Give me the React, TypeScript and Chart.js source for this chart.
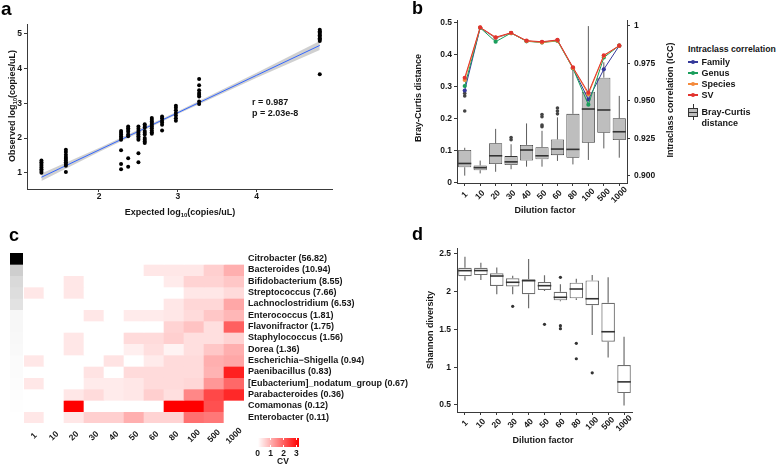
import React, { useEffect, useRef } from "react";
import { Chart, registerables } from "chart.js";
Chart.register(...registerables);

const FONT = "'Liberation Sans', Arial, Helvetica, sans-serif";
const INK = "#161616";
const AXIS = "#3a3a3a";

// ---------- Panel a : expected vs observed ----------
const expectedLog = [1.27, 1.58, 2.28, 2.37, 2.5, 2.58, 2.67, 2.8, 2.975, 3.27, 4.8];
const observedLog = [
  [1.0, 1.05, 1.1, 1.15, 1.2, 1.25, 1.3, 1.35],
  [1.02, 1.2, 1.25, 1.3, 1.35, 1.4, 1.45, 1.52, 1.6, 1.66],
  [1.1, 1.25, 1.65, 1.95, 2.0, 2.05, 2.1, 2.15, 2.2],
  [1.17, 1.42, 2.05, 2.1, 2.18, 2.23, 2.28, 2.33],
  [1.3, 1.56, 1.95, 2.0, 2.05, 2.1, 2.15, 2.2, 2.27, 2.33],
  [1.86, 1.9, 1.95, 2.0, 2.1, 2.15, 2.2, 2.3, 2.35, 2.4],
  [2.12, 2.17, 2.22, 2.28, 2.33, 2.38, 2.43, 2.48, 2.53, 2.58],
  [2.22, 2.38, 2.45, 2.5, 2.57, 2.62],
  [2.5, 2.57, 2.65, 2.72, 2.8, 2.87, 2.93],
  [2.98, 3.05, 3.2, 3.25, 3.3, 3.38, 3.52, 3.7],
  [3.84, 4.8, 4.84, 4.88, 4.92, 4.96, 5.0, 5.04, 5.08, 5.12],
];
const fitX = [1.27, 2.0, 3.0, 4.0, 4.8];
const fitY = [0.87, 1.655, 2.73, 3.81, 4.67];
const fitLower = [0.76, 1.6, 2.69, 3.74, 4.54];
const fitUpper = [0.98, 1.71, 2.77, 3.88, 4.8];
const aXTicks = [2, 3, 4];
const aYTicks = [1, 2, 3, 4, 5];

// ---------- Panel b : Bray-Curtis boxes + ICC lines ----------
const dilutionLabels = ["1", "10", "20", "30", "40", "50", "60", "80", "100", "500", "1000"];
const bcMin = [0.021, 0.028, 0.033, 0.041, 0.049, 0.049, 0.067, 0.056, 0.07, 0.106, 0.077];
const bcQ1 = [0.047, 0.038, 0.057, 0.054, 0.068, 0.072, 0.085, 0.077, 0.124, 0.155, 0.132];
const bcMedian = [0.059, 0.046, 0.083, 0.064, 0.101, 0.083, 0.104, 0.103, 0.229, 0.226, 0.158];
const bcQ3 = [0.101, 0.053, 0.122, 0.082, 0.117, 0.11, 0.134, 0.214, 0.283, 0.327, 0.2];
const bcMax = [0.108, 0.068, 0.167, 0.119, 0.184, 0.161, 0.203, 0.361, 0.488, 0.375, 0.27];
const bcOutlierCat = ["1", "1", "1", "30", "30", "50", "50", "50", "50", "60", "60", "60"];
const bcOutlierVal = [0.223, 0.27, 0.278, 0.133, 0.14, 0.174, 0.179, 0.205, 0.212, 0.214, 0.223, 0.232];
const iccSV = [0.9655, 0.9991, 0.9925, 0.9955, 0.9902, 0.9895, 0.9907, 0.9725, 0.9555, 0.9805, 0.9869];
const iccSpecies = [0.964, 0.999, 0.9922, 0.9953, 0.99, 0.989, 0.9903, 0.972, 0.9545, 0.98, 0.9869];
const iccGenus = [0.96, 0.9988, 0.9895, 0.9953, 0.9898, 0.989, 0.99, 0.9718, 0.9475, 0.979, 0.9869];
const iccFamily = [0.957, 0.9988, 0.992, 0.9953, 0.99, 0.9892, 0.9905, 0.972, 0.951, 0.9711, 0.9869];
const bcTicks = [0, 0.1, 0.2, 0.3, 0.4, 0.5];
const iccTicks = [0.9, 0.925, 0.95, 0.975, 1];
const iccTickLabels = ["0.900", "0.925", "0.950", "0.975", "1"];
const FAMILY_C = "#35399a";
const GENUS_C = "#1a9e5c";
const SPECIES_C = "#f48a3c";
const SV_C = "#e2332e";

// ---------- Panel c : CV heatmap ----------
const taxa = [
  "Citrobacter", "Bacteroides", "Bifidobacterium", "Streptococcus", "Lachnoclostridium",
  "Enterococcus", "Flavonifractor", "Staphylococcus", "Dorea", "Escherichia\u2212Shigella",
  "Paenibacillus", "[Eubacterium]_nodatum_group", "Parabacteroides", "Comamonas", "Enterobacter",
];
const abundance = [56.82, 10.94, 8.55, 7.66, 6.53, 1.81, 1.75, 1.56, 1.36, 0.94, 0.83, 0.67, 0.36, 0.12, 0.11];
const cvValues = [
  [0, 0, 0, 0, 0, 0, 0, 0, 0, 0, 0],
  [0, 0, 0, 0, 0, 0, 0.3, 0.3, 0.3, 0.6, 1.0],
  [0, 0, 0.3, 0, 0, 0, 0, 0.25, 0.55, 0.55, 0.7],
  [0.3, 0, 0.3, 0, 0, 0, 0, 0, 0.3, 0.3, 0.45],
  [0, 0, 0, 0, 0, 0, 0, 0.3, 0.5, 0.5, 1.1],
  [0, 0, 0, 0.3, 0, 0.25, 0.25, 0.3, 0.45, 0.7, 0.9],
  [0, 0, 0, 0, 0, 0, 0, 0.55, 0.75, 0.4, 2.0],
  [0, 0, 0.3, 0, 0, 0.45, 0.45, 0.6, 0.4, 0.4, 0.55],
  [0, 0, 0.3, 0, 0, 0.2, 0.4, 0.15, 0.4, 0.7, 1.0],
  [0.3, 0, 0, 0, 0.35, 0, 0.25, 0.45, 0.45, 1.0, 1.1],
  [0, 0, 0, 0.35, 0, 0.45, 0.45, 0.45, 0.45, 0.95, 2.8],
  [0.3, 0, 0, 0.25, 0.25, 0.3, 0.45, 0.45, 0.5, 1.3, 1.9],
  [0, 0, 0.3, 0.45, 0.25, 0.3, 0.6, 0.4, 1.5, 2.3, 2.7],
  [0, 0, 3.2, 0, 0, 0, 0, 3.2, 3.2, 2.2, 0],
  [0.3, 0, 0.3, 0.6, 0.6, 1.0, 0.55, 0.55, 1.8, 1.7, 0],
];
const cvMax = 3.2;
const cvLegendTicks = [0, 1, 2, 3];

// ---------- Panel d : Shannon diversity ----------
const shMin = [2.15, 2.155, 1.966, 1.966, 1.78, 2.01, 1.875, 1.89, 1.426, 1.13, 0.493];
const shQ1 = [2.204, 2.22, 2.076, 2.07, 1.966, 2.023, 1.886, 1.912, 1.82, 1.337, 0.657];
const shMedian = [2.279, 2.28, 2.208, 2.125, 2.146, 2.08, 1.926, 2.036, 1.907, 1.47, 0.806];
const shQ3 = [2.318, 2.318, 2.244, 2.178, 2.164, 2.129, 2.0, 2.12, 2.15, 1.854, 1.028];
const shMax = [2.464, 2.385, 2.32, 2.212, 2.434, 2.217, 2.098, 2.173, 2.22, 2.19, 1.403];
const shOutlierCat = ["30", "50", "60", "60", "60", "80", "80", "100"];
const shOutlierVal = [1.806, 1.568, 2.19, 1.55, 1.51, 1.316, 1.112, 0.926];
const shTicks = [0.5, 1, 1.5, 2, 2.5];

// ---------- helpers ----------
const tickFont = (size = 8.5) => ({ family: FONT, size, weight: "bold" as const });
const fixW = (w: number) => (s: any) => { s.width = w; s.paddingTop = 0; s.paddingBottom = 0; };
const fixH = (h: number) => (s: any) => { s.height = h; s.paddingLeft = 0; s.paddingRight = 0; };
const setTicks = (vals: number[]) => (s: any) => { s.ticks = vals.map((v) => ({ value: v })); };
const border = { display: true, color: AXIS, width: 1 };
const marks = { display: true, drawOnChartArea: false, drawTicks: true, tickLength: 3, color: AXIS, lineWidth: 1, offset: false };
const baseOpts = {
  responsive: false,
  animation: false as const,
  events: [] as any[],
  plugins: { legend: { display: false }, tooltip: { enabled: false } },
};

const cvColor = (v: number) => {
  const t = Math.max(0, Math.min(1, v / cvMax));
  const g = Math.round(255 * (1 - t));
  return `rgb(255,${g},${g})`;
};
const grayFor = (a: number) => {
  const m = Math.max(...abundance);
  const g = Math.round(255 * (1 - a / m));
  return `rgb(${g},${g},${g})`;
};

const boxPlugin = (
  id: string, dsIndex: number, lo: number[], q1: number[], med: number[], q3: number[], hi: number[],
  whiskerColor: string, medianColor: string, whiskerWidth: number, medianWidth: number
) => ({
  id,
  afterDatasetDraw(chart: any, args: any) {
    if (args.index !== dsIndex) return;
    const meta = chart.getDatasetMeta(dsIndex);
    const ys = chart.scales[meta.yAxisID];
    const ctx = chart.ctx;
    ctx.save();
    meta.data.forEach((el: any, i: number) => {
      const x = el.x;
      const w = el.width;
      ctx.strokeStyle = whiskerColor;
      ctx.lineWidth = whiskerWidth;
      ctx.beginPath();
      ctx.moveTo(x, ys.getPixelForValue(q3[i]));
      ctx.lineTo(x, ys.getPixelForValue(hi[i]));
      ctx.moveTo(x, ys.getPixelForValue(q1[i]));
      ctx.lineTo(x, ys.getPixelForValue(lo[i]));
      ctx.stroke();
      const ym = ys.getPixelForValue(med[i]);
      ctx.strokeStyle = medianColor;
      ctx.lineWidth = medianWidth;
      ctx.beginPath();
      ctx.moveTo(x - w / 2, ym);
      ctx.lineTo(x + w / 2, ym);
      ctx.stroke();
    });
    ctx.restore();
  },
});

const rotatedTicks = (id: string, labels: string[], offsetY: number, size = 8.5) => ({
  id,
  afterDraw(chart: any) {
    const xs = chart.scales.x;
    const ctx = chart.ctx;
    const yBase = chart.chartArea.bottom + offsetY;
    ctx.save();
    ctx.font = `bold ${size}px ${FONT}`;
    ctx.fillStyle = INK;
    ctx.textAlign = "center";
    ctx.textBaseline = "middle";
    labels.forEach((lab, i) => {
      const x = xs.getPixelForValue(i);
      ctx.save();
      ctx.translate(x, yBase);
      ctx.rotate(-Math.PI / 4);
      ctx.fillText(lab, 0, 0);
      ctx.restore();
    });
    ctx.restore();
  },
});

type LabelProps = { x: number; y: number; size?: number; rotate?: boolean; align?: "center" | "left"; children: React.ReactNode };
function Label({ x, y, size = 9, rotate = false, align = "center", children }: LabelProps) {
  const tr = (align === "center" ? "translate(-50%,-50%)" : "translate(0,-50%)") + (rotate ? " rotate(-90deg)" : "");
  return (
    <div style={{ position: "absolute", left: x, top: y, transform: tr, fontSize: size, fontWeight: 700, lineHeight: 1, whiteSpace: "nowrap", fontFamily: FONT, color: INK }}>
      {children}
    </div>
  );
}
function Letter({ x, baseline, size = 19, children }: { x: number; baseline: number; size?: number; children: React.ReactNode }) {
  return (
    <div style={{ position: "absolute", left: x, top: baseline - 0.8465 * size, fontSize: size, fontWeight: 700, lineHeight: 1, fontFamily: FONT, color: "#000" }}>
      {children}
    </div>
  );
}
const Sub = () => <span style={{ fontSize: 6, position: "relative", top: 2 }}>10</span>;

export default function App() {
  const aRef = useRef<HTMLCanvasElement>(null);
  const bRef = useRef<HTMLCanvasElement>(null);
  const cRef = useRef<HTMLCanvasElement>(null);
  const sRef = useRef<HTMLCanvasElement>(null);
  const dRef = useRef<HTMLCanvasElement>(null);

  useEffect(() => {
    const charts: Chart[] = [];

    // ---- a ----
    const aPoints = expectedLog.flatMap((x, i) => observedLog[i].map((y) => ({ x, y })));
    charts.push(
      new Chart(aRef.current!, {
        type: "scatter",
        data: {
          datasets: [
            { type: "line", data: fitX.map((x, i) => ({ x, y: fitLower[i] })), borderColor: "transparent", pointRadius: 0, fill: false, order: 4 } as any,
            { type: "line", data: fitX.map((x, i) => ({ x, y: fitUpper[i] })), borderColor: "transparent", pointRadius: 0, fill: "-1", backgroundColor: "rgba(150,150,150,0.45)", order: 3 } as any,
            { type: "line", data: fitX.map((x, i) => ({ x, y: fitY[i] })), borderColor: "#3366FF", borderWidth: 1, pointRadius: 0, fill: false, order: 2 } as any,
            { type: "scatter", data: aPoints, pointRadius: 2, backgroundColor: "#000", borderWidth: 0, order: 1 } as any,
          ],
        },
        options: {
          ...baseOpts,
          layout: { padding: { top: 24, right: 13, left: 0, bottom: 0 } },
          scales: {
            x: {
              type: "linear", min: 1.087, max: 4.955, bounds: "data",
              afterBuildTicks: setTicks(aXTicks), afterFit: fixH(39),
              grid: marks, border,
              ticks: { font: tickFont(), color: INK, padding: 0, callback: (v: any) => String(v) },
            },
            y: {
              type: "linear", min: 0.53, max: 5.288, bounds: "data",
              afterBuildTicks: setTicks(aYTicks), afterFit: fixW(27),
              grid: marks, border,
              ticks: { font: tickFont(), color: INK, padding: 2, callback: (v: any) => String(v) },
            },
          },
        } as any,
      })
    );

    // ---- b ----
    charts.push(
      new Chart(bRef.current!, {
        type: "bar",
        data: {
          labels: dilutionLabels,
          datasets: [
            { type: "line", data: iccSV, yAxisID: "y2", borderColor: SV_C, backgroundColor: SV_C, borderWidth: 1, pointRadius: 2.1, pointBorderWidth: 0, tension: 0, fill: false, order: 1 } as any,
            { type: "line", data: iccSpecies, yAxisID: "y2", borderColor: SPECIES_C, backgroundColor: SPECIES_C, borderWidth: 1, pointRadius: 2.1, pointBorderWidth: 0, tension: 0, fill: false, order: 2 } as any,
            { type: "line", data: iccGenus, yAxisID: "y2", borderColor: GENUS_C, backgroundColor: GENUS_C, borderWidth: 1, pointRadius: 2.1, pointBorderWidth: 0, tension: 0, fill: false, order: 3 } as any,
            { type: "line", data: iccFamily, yAxisID: "y2", borderColor: FAMILY_C, backgroundColor: FAMILY_C, borderWidth: 1, pointRadius: 2.1, pointBorderWidth: 0, tension: 0, fill: false, order: 4 } as any,
            { type: "line", showLine: false, data: bcOutlierCat.map((c, i) => ({ x: c, y: bcOutlierVal[i] })), yAxisID: "y", backgroundColor: "#444", borderColor: "#444", pointRadius: 1.8, pointBorderWidth: 0, order: 9 } as any,
            { type: "bar", data: bcQ1.map((v, i) => [v, bcQ3[i]]), yAxisID: "y", backgroundColor: "#bebebe", borderColor: "#333", borderWidth: 0.8, borderSkipped: false, barPercentage: 0.85, categoryPercentage: 1, order: 10 } as any,
          ],
        },
        options: {
          ...baseOpts,
          layout: { padding: { top: 20, right: 0, left: 0, bottom: 0 } },
          scales: {
            x: {
              type: "category", offset: true, afterFit: fixH(47),
              grid: marks, border,
              ticks: { display: false, autoSkip: false },
            },
            y: {
              type: "linear", position: "left", min: -0.002, max: 0.507, bounds: "data",
              afterBuildTicks: setTicks(bcTicks), afterFit: fixW(67),
              grid: marks, border,
              ticks: { font: tickFont(), color: INK, padding: 2, callback: (v: any) => String(Math.round(v * 1000) / 1000) },
            },
            y2: {
              type: "linear", position: "right", min: 0.8953, max: 1.004, bounds: "data",
              afterBuildTicks: setTicks(iccTicks), afterFit: fixW(53),
              grid: marks, border,
              ticks: {
                font: tickFont(), color: INK, padding: 4,
                callback: (v: any) => {
                  const k = iccTicks.findIndex((t) => Math.abs(t - v) < 1e-6);
                  return k >= 0 ? iccTickLabels[k] : "";
                },
              },
            },
          },
        } as any,
        plugins: [
          boxPlugin("bcBox", 5, bcMin, bcQ1, bcMedian, bcQ3, bcMax, "#333", "#333", 0.8, 1.6),
          rotatedTicks("bTicks", dilutionLabels, 12),
        ],
      })
    );

    // ---- c (heatmap) ----
    charts.push(
      new Chart(cRef.current!, {
        type: "bar",
        data: {
          labels: dilutionLabels,
          datasets: taxa.map((t, r) => ({
            label: t,
            data: dilutionLabels.map(() => 1),
            backgroundColor: cvValues[r].map(cvColor),
            borderWidth: 0,
            barPercentage: 1,
            categoryPercentage: 1,
          })),
        },
        options: {
          ...baseOpts,
          layout: { padding: { top: 8, right: 0, left: 24, bottom: 0 } },
          scales: {
            x: {
              stacked: true, offset: true, afterFit: fixH(44),
              grid: { display: false, drawTicks: false }, border: { display: false },
              ticks: { display: false, autoSkip: false },
            },
            y: { stacked: true, reverse: true, min: 0, max: 15, display: false },
            y2: {
              type: "category", labels: taxa.map((t, i) => `${t} (${abundance[i].toFixed(2)})`),
              position: "right", offset: true, afterFit: fixW(176),
              grid: { display: false, drawTicks: false }, border: { display: false },
              ticks: { font: tickFont(9), color: INK, padding: 4, autoSkip: false },
            },
          },
        } as any,
        plugins: [rotatedTicks("cTicks", dilutionLabels, 13)],
      })
    );

    // ---- c (abundance strip) ----
    charts.push(
      new Chart(sRef.current!, {
        type: "bar",
        data: {
          labels: [""],
          datasets: abundance.map((a) => ({ data: [1], backgroundColor: grayFor(a), borderWidth: 0, barPercentage: 1, categoryPercentage: 1 })),
        },
        options: {
          ...baseOpts,
          layout: { padding: 0 },
          scales: {
            x: { stacked: true, display: false, offset: true },
            y: { stacked: true, reverse: true, min: 0, max: 15, display: false },
          },
        } as any,
      })
    );

    // ---- d ----
    charts.push(
      new Chart(dRef.current!, {
        type: "bar",
        data: {
          labels: dilutionLabels,
          datasets: [
            { type: "line", showLine: false, data: shOutlierCat.map((c, i) => ({ x: c, y: shOutlierVal[i] })), backgroundColor: "#333", borderColor: "#333", pointRadius: 1.6, pointBorderWidth: 0, order: 1 } as any,
            { type: "bar", data: shQ1.map((v, i) => [v, shQ3[i]]), backgroundColor: "#ffffff", borderColor: "#6e6e6e", borderWidth: 1.2, borderSkipped: false, barPercentage: 0.85, categoryPercentage: 1, order: 2 } as any,
          ],
        },
        options: {
          ...baseOpts,
          layout: { padding: { top: 16, right: 48, left: 0, bottom: 0 } },
          scales: {
            x: {
              type: "category", offset: true, afterFit: fixH(55),
              grid: marks, border,
              ticks: { display: false, autoSkip: false },
            },
            y: {
              type: "linear", min: 0.407, max: 2.579, bounds: "data",
              afterBuildTicks: setTicks(shTicks), afterFit: fixW(67),
              grid: marks, border,
              ticks: { font: tickFont(), color: INK, padding: 3, callback: (v: any) => String(v) },
            },
          },
        } as any,
        plugins: [
          boxPlugin("shBox", 1, shMin, shQ1, shMedian, shQ3, shMax, "#6e6e6e", "#333", 1.2, 1.6),
          rotatedTicks("dTicks", dilutionLabels, 11.5),
        ],
      })
    );

    return () => charts.forEach((c) => c.destroy());
  }, []);

  const cv = (x: number, y: number, w: number, h: number) => ({ position: "absolute" as const, left: x, top: y, width: w, height: h });
  const legendItems = [
    { name: "Family", color: FAMILY_C, y: 62 },
    { name: "Genus", color: GENUS_C, y: 73 },
    { name: "Species", color: SPECIES_C, y: 84 },
    { name: "SV", color: SV_C, y: 95 },
  ];
  const barLeft = 257.7;
  const barW = 41.3;

  return (
    <div style={{ position: "absolute", left: 0, top: 0, width: 778, height: 467, overflow: "hidden", background: "#fff" }}>
      <canvas ref={aRef} width={345} height={228} style={cv(0, 0, 345, 228)} />
      <canvas ref={cRef} width={420} height={222} style={cv(0, 245, 420, 222)} />
      <canvas ref={sRef} width={13} height={170} style={cv(10, 253, 13, 170)} />
      <canvas ref={bRef} width={290} height={230} style={cv(390, 0, 290, 230)} />
      <canvas ref={dRef} width={290} height={235} style={cv(390, 232, 290, 235)} />

      {/* panel letters */}
      <Letter x={1} baseline={15}>a</Letter>
      <Letter x={412} baseline={14.3} size={18}>b</Letter>
      <Letter x={9} baseline={241.7} size={18}>c</Letter>
      <Letter x={412} baseline={240.7} size={18}>d</Letter>

      {/* panel a texts */}
      <Label x={12} y={106} rotate>Observed log<Sub />(copies/uL)</Label>
      <Label x={180} y={212}>Expected log<Sub />(copies/uL)</Label>
      <Label x={252} y={101.5} align="left">r = 0.987</Label>
      <Label x={252} y={113} align="left">p = 2.03e-8</Label>

      {/* panel b texts */}
      <Label x={418} y={97.5} rotate>Bray-Curtis distance</Label>
      <Label x={670} y={100} rotate>Intraclass correlation (ICC)</Label>
      <Label x={545} y={210}>Dilution factor</Label>
      <Label x={688} y={49} size={8.7} align="left">Intraclass correlation</Label>
      {legendItems.map((it) => (
        <React.Fragment key={it.name}>
          <div style={{ position: "absolute", left: 688, top: it.y - 0.6, width: 10, height: 1.2, background: it.color }} />
          <div style={{ position: "absolute", left: 691, top: it.y - 2, width: 4, height: 4, borderRadius: "50%", background: it.color }} />
          <Label x={701.5} y={it.y} align="left">{it.name}</Label>
        </React.Fragment>
      ))}
      <div style={{ position: "absolute", left: 692.7, top: 104, width: 0.8, height: 16, background: "#333" }} />
      <div style={{ position: "absolute", left: 688, top: 107.7, width: 10, height: 9, boxSizing: "border-box", background: "#bebebe", border: "0.8px solid #333" }} />
      <div style={{ position: "absolute", left: 688, top: 111.5, width: 10, height: 1.5, background: "#333" }} />
      <Label x={701.5} y={112} align="left">Bray-Curtis</Label>
      <Label x={701.5} y={122.5} align="left">distance</Label>

      {/* panel c legend */}
      <div style={{ position: "absolute", left: barLeft, top: 437.7, width: barW, height: 9.6, background: "linear-gradient(to right, rgb(255,255,255), rgb(255,0,0))" }} />
      {cvLegendTicks.map((t) => {
        const x = barLeft + (t / cvMax) * barW;
        return (
          <React.Fragment key={t}>
            <div style={{ position: "absolute", left: x - 0.4, top: 437.7, width: 0.8, height: 2, background: "#fff" }} />
            <div style={{ position: "absolute", left: x - 0.4, top: 445.3, width: 0.8, height: 2, background: "#fff" }} />
            <div style={{ position: "absolute", left: x - 5, top: 449, width: 10, textAlign: "center", fontSize: 8.5, fontWeight: 700, lineHeight: "9px", fontFamily: FONT, color: INK }}>{String(t)}</div>
          </React.Fragment>
        );
      })}
      <Label x={283} y={461} size={8.5}>CV</Label>

      {/* panel d texts */}
      <Label x={430} y={330} rotate>Shannon diversity</Label>
      <Label x={543} y={439.5}>Dilution factor</Label>
    </div>
  );
}
